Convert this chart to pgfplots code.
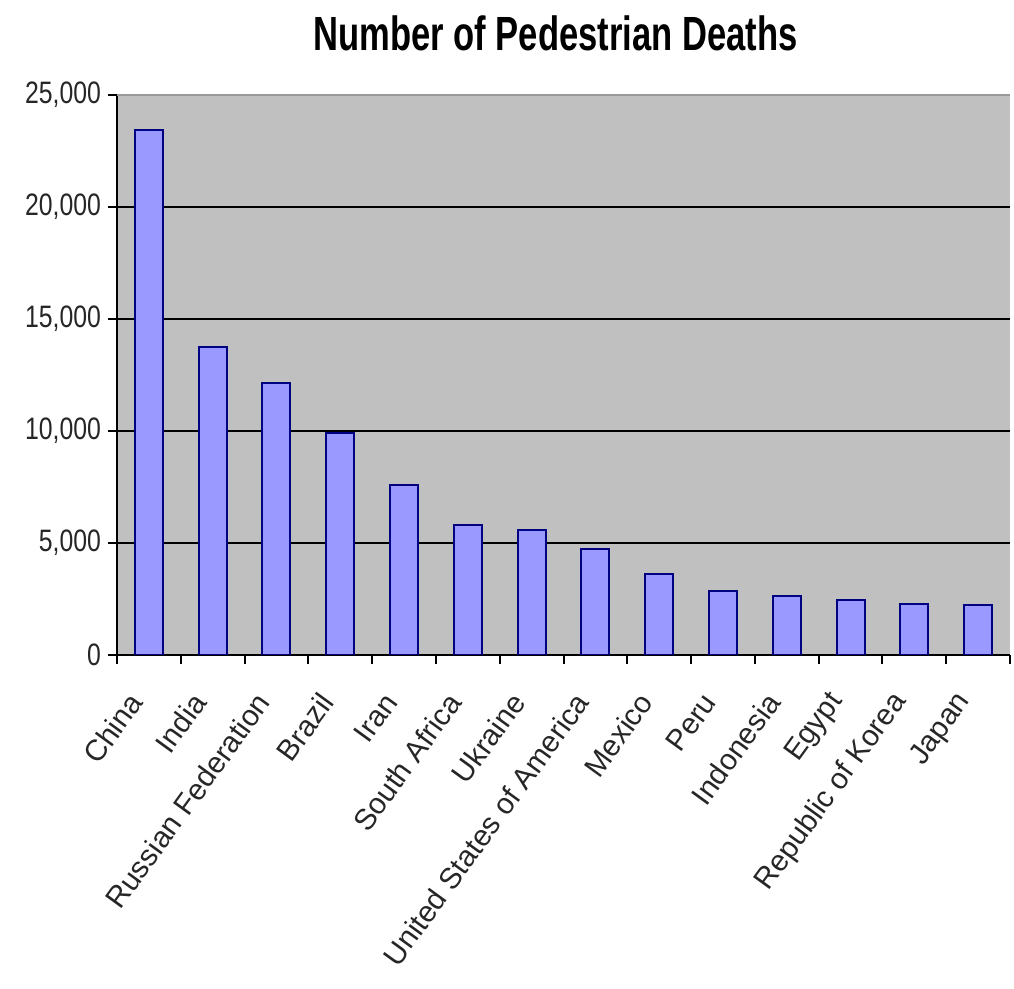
\documentclass[border=0pt]{standalone}
\usepackage{fontspec}
\setmainfont{Liberation Sans}
\newfontfamily\titlefont{Liberation Sans}[FakeStretch=0.72]
\newfontfamily\tickfont{Liberation Sans}[FakeStretch=0.8]
\usepackage{pgfplots}
\pgfplotsset{compat=1.18}
\definecolor{plotbg}{RGB}{192,192,192}
\definecolor{barfill}{RGB}{153,153,255}
\definecolor{baredge}{RGB}{0,0,128}

\begin{document}
\begin{tikzpicture}
\useasboundingbox (-58.5pt,-167pt) rectangle (448.5pt,327.5pt);
\begin{axis}[
  at={(0pt,0pt)}, anchor=south west,
  scale only axis, width=446.5pt, height=280pt,
  xmin=0.5, xmax=14.5, ymin=0, ymax=25000,
  axis background/.style={fill=plotbg},
  axis x line*=bottom, axis y line*=left,
  axis line style={black, line width=1pt, -},
  ybar, bar width=14pt,
  ytick={0,5000,...,25000}, scaled y ticks=false,
  ymajorgrids, major grid style={black, line width=1.3pt},
  tick align=outside, tick style={black, line width=1pt}, major tick length=4.5pt,
  xtick={0.5,1.5,...,14.5}, xticklabels={},
  extra x ticks={1,2,...,14},
  extra x tick labels={China,India,Russian Federation,Brazil,Iran,South Africa,Ukraine,United States of America,Mexico,Peru,Indonesia,Egypt,Republic of Korea,Japan},
  extra x tick style={major tick length=0pt,
    xticklabel style={xshift=-6pt, yshift=-20pt, rotate=54, anchor=east,
      inner sep=1pt, font=\fontsize{14.8}{17}\selectfont, text=black!85}},
  yticklabel style={font=\tickfont\fontsize{15.5}{17}\selectfont, text=black!85},
  /pgf/number format/.cd, 1000 sep={,}, fixed, assume math mode=true,
  /pgfplots/.cd,
  title={\titlefont\bfseries\fontsize{24}{28}\selectfont Number of Pedestrian Deaths},
  title style={at={(0.5,1)}, anchor=center, yshift=25pt, xshift=-4pt},
]
\addplot[fill=barfill, draw=baredge, line width=1pt] coordinates {
  (1,23450) (2,13750) (3,12150) (4,9920) (5,7600) (6,5800) (7,5600)
  (8,4750) (9,3620) (10,2850) (11,2620) (12,2440) (13,2290) (14,2240)
};
\draw[black!40, line width=1.2pt] (rel axis cs:0,1) -- (rel axis cs:1,1);
\end{axis}
\end{tikzpicture}
\end{document}
